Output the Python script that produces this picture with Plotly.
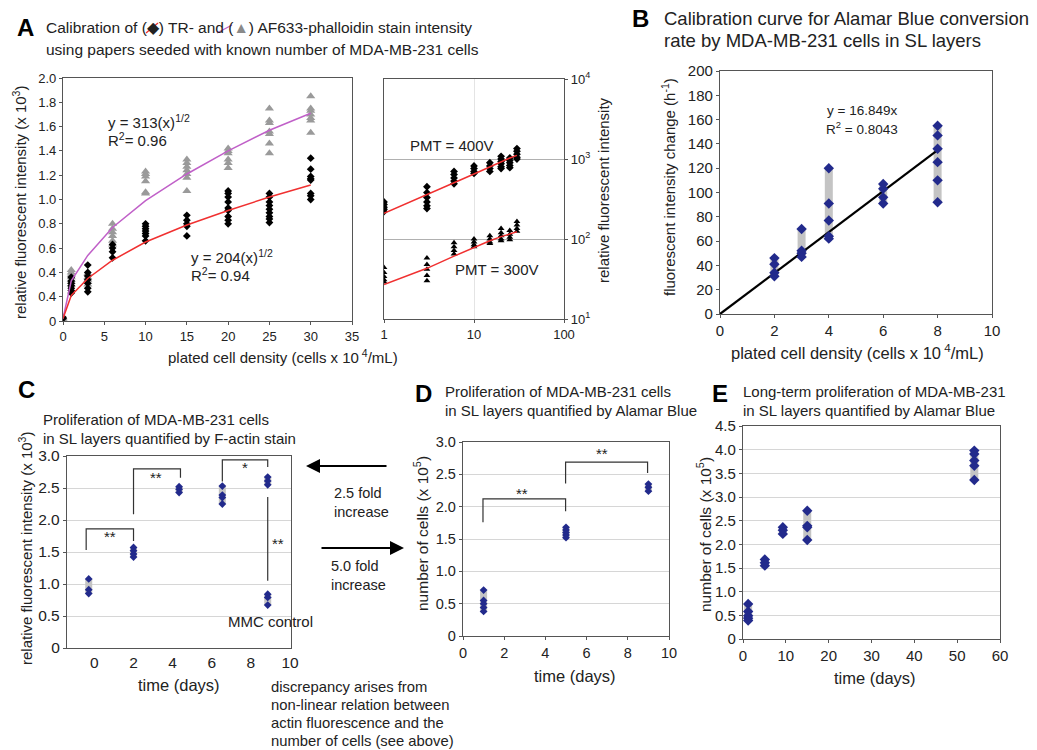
import plotly.graph_objects as go

W, H = 1037, 750
FONT = "Liberation Sans, Arial, sans-serif"
NAVY = "#222a8c"
BARC = "#c4c4c4"

# ---------------- data ----------------
# Panel A (linear): plated density vs fluorescence (x 10^3)
A_x = [0, 1, 3, 6, 10, 15, 20, 25, 30]
A_tr = [[0.03, 0.02],
        [0.36, 0.33, 0.31, 0.29, 0.27, 0.25, 0.23],
        [0.46, 0.40, 0.37, 0.34, 0.31, 0.27, 0.24],
        [0.63, 0.60, 0.57, 0.52],
        [0.80, 0.78, 0.76, 0.74, 0.72, 0.70, 0.66],
        [0.87, 0.83, 0.80, 0.78, 0.70],
        [1.07, 1.05, 1.02, 0.98, 0.93, 0.91, 0.86, 0.83, 0.80],
        [1.05, 1.02, 0.98, 0.95, 0.92, 0.89, 0.86, 0.84, 0.81],
        [1.34, 1.25, 1.19, 1.17, 1.16, 1.05, 1.03, 1.00]]
A_af = [[0.03, 0.02, 0.01],
        [0.42, 0.40, 0.38, 0.36, 0.34, 0.32, 0.30],
        [0.39, 0.36, 0.34, 0.32, 0.30],
        [0.80, 0.76, 0.73, 0.70, 0.66, 0.63],
        [1.23, 1.21, 1.19, 1.15, 1.06, 1.05],
        [1.33, 1.30, 1.27, 1.24, 1.21, 1.18, 1.07],
        [1.42, 1.40, 1.38, 1.33, 1.30, 1.26],
        [1.75, 1.65, 1.63, 1.56, 1.54, 1.46, 1.38],
        [1.85, 1.75, 1.73, 1.70, 1.67, 1.65, 1.55]]
A_tr_fit = [0.02, 0.21, 0.35, 0.50, 0.65, 0.79, 0.91, 1.02, 1.12]
A_af_fit = [0.02, 0.33, 0.54, 0.77, 0.99, 1.21, 1.40, 1.57, 1.71]
A_yticks = [0, 0.2, 0.4, 0.6, 0.8, 1.0, 1.2, 1.4, 1.6, 1.8, 2.0]
A_yticktext = ["0", "0.4", "0.4", "0.6", "0.8", "1.0", "1.2", "1.4", "1.6", "1.8", "2.0"]

# Panel A (log-log)
L_x = [1, 3, 6, 10, 15, 20, 25, 30]
L_400 = [[290, 270, 250, 235, 220],
         [450, 380, 330, 290, 260, 240],
         [700, 640, 580, 530, 490],
         [820, 760, 700, 660],
         [900, 820, 760, 700],
         [1080, 1000, 930, 870, 800, 760],
         [1030, 960, 900, 830, 780],
         [1350, 1250, 1150, 1050, 1000]]
L_300 = [[44, 38, 34, 31, 29],
         [58, 48, 42, 35, 30],
         [90, 80, 72, 65],
         [100, 92, 85, 80],
         [110, 100, 92, 88],
         [135, 120, 110, 100, 95],
         [128, 115, 105, 98],
         [165, 150, 135, 125]]
L_400_fit = [210, 355, 505, 650, 800, 920, 1030, 1110]
L_300_fit = [27, 43, 61, 79, 95, 107, 116, 123]

# Panel B
B_x = [2, 3, 4, 6, 8]
B_y = [[46, 41, 34, 31],
       [70, 52, 50, 47],
       [120, 91, 77, 64, 62],
       [107, 103, 96, 91],
       [155, 147, 136, 125, 110, 92]]
B_fit_x = [0, 8]
B_fit_y = [0, 134.8]

# Panel C
C_x = [-0.29, 2.0, 4.33, 6.54, 8.86, 8.86]
C_y = [[1.08, 0.91, 0.85],
       [1.57, 1.52, 1.47, 1.42],
       [2.52, 2.48, 2.43],
       [2.53, 2.39, 2.35, 2.25],
       [2.67, 2.61, 2.55],
       [0.84, 0.79, 0.67]]

# Panel D
D_x = [1, 5, 9]
D_y = [[0.71, 0.55, 0.50, 0.44, 0.38],
       [1.68, 1.64, 1.60, 1.56, 1.52],
       [2.35, 2.30, 2.24]]

# Panel E
E_x = [1.2, 5.1, 9.3, 15, 54]
E_y = [[0.74, 0.58, 0.49, 0.44, 0.39],
       [1.68, 1.61, 1.55],
       [2.36, 2.30, 2.22],
       [2.71, 2.39, 2.36, 2.09],
       [3.98, 3.91, 3.77, 3.66, 3.36]]


# ---------------- helpers ----------------
def flat(xs, groups):
    fx, fy = [], []
    for x, g in zip(xs, groups):
        for v in g:
            fx.append(x)
            fy.append(v)
    return fx, fy


def bars(xs, groups):
    bx, by = [], []
    for x, g in zip(xs, groups):
        bx += [x, x, None]
        by += [min(g), max(g), None]
    return bx, by


def px(x):
    return x / W


def py(y):
    return 1 - y / H


fig = go.Figure()

# Panel A linear
x, y = flat(A_x, A_af)
fig.add_trace(go.Scatter(x=x, y=y, mode="markers", xaxis="x", yaxis="y",
                         marker=dict(symbol="triangle-up", size=8, color="#9a9a9a")))
x, y = flat(A_x, A_tr)
fig.add_trace(go.Scatter(x=x, y=y, mode="markers", xaxis="x", yaxis="y",
                         marker=dict(symbol="diamond", size=6, color="black")))
fig.add_trace(go.Scatter(x=A_x, y=A_af_fit, mode="lines", xaxis="x", yaxis="y",
                         line=dict(color="#c060c8", width=1.5)))
fig.add_trace(go.Scatter(x=A_x, y=A_tr_fit, mode="lines", xaxis="x", yaxis="y",
                         line=dict(color="#f03030", width=1.5)))

# Panel A log
x, y = flat(L_x, L_400)
fig.add_trace(go.Scatter(x=x, y=y, mode="markers", xaxis="x2", yaxis="y2",
                         marker=dict(symbol="diamond", size=6, color="black")))
x, y = flat(L_x, L_300)
fig.add_trace(go.Scatter(x=x, y=y, mode="markers", xaxis="x2", yaxis="y2",
                         marker=dict(symbol="triangle-up", size=6, color="black")))
fig.add_trace(go.Scatter(x=L_x, y=L_400_fit, mode="lines", xaxis="x2", yaxis="y2",
                         line=dict(color="#f03030", width=1.5)))
fig.add_trace(go.Scatter(x=L_x, y=L_300_fit, mode="lines", xaxis="x2", yaxis="y2",
                         line=dict(color="#f03030", width=1.5)))

# Panel B
bx, by = bars(B_x, B_y)
fig.add_trace(go.Scatter(x=bx, y=by, mode="lines", xaxis="x3", yaxis="y3",
                         line=dict(color=BARC, width=8)))
fig.add_trace(go.Scatter(x=B_fit_x, y=B_fit_y, mode="lines", xaxis="x3", yaxis="y3",
                         line=dict(color="black", width=2.2)))
x, y = flat(B_x, B_y)
fig.add_trace(go.Scatter(x=x, y=y, mode="markers", xaxis="x3", yaxis="y3",
                         marker=dict(symbol="diamond", size=8, color=NAVY)))

# Panel C
bx, by = bars(C_x, C_y)
fig.add_trace(go.Scatter(x=bx, y=by, mode="lines", xaxis="x4", yaxis="y4",
                         line=dict(color=BARC, width=7)))
x, y = flat(C_x, C_y)
fig.add_trace(go.Scatter(x=x, y=y, mode="markers", xaxis="x4", yaxis="y4",
                         marker=dict(symbol="diamond", size=6, color=NAVY)))

# Panel D
bx, by = bars(D_x, D_y)
fig.add_trace(go.Scatter(x=bx, y=by, mode="lines", xaxis="x5", yaxis="y5",
                         line=dict(color=BARC, width=7)))
x, y = flat(D_x, D_y)
fig.add_trace(go.Scatter(x=x, y=y, mode="markers", xaxis="x5", yaxis="y5",
                         marker=dict(symbol="diamond", size=6, color=NAVY)))

# Panel E
bx, by = bars(E_x, E_y)
fig.add_trace(go.Scatter(x=bx, y=by, mode="lines", xaxis="x6", yaxis="y6",
                         line=dict(color=BARC, width=8)))
x, y = flat(E_x, E_y)
fig.add_trace(go.Scatter(x=x, y=y, mode="markers", xaxis="x6", yaxis="y6",
                         marker=dict(symbol="diamond", size=8, color=NAVY)))


def axis(l, r, t, b, anchor, fs=13, **kw):
    d = dict(domain=[px(l), px(r)] if anchor.startswith("y") else [py(b), py(t)],
             anchor=anchor, showline=True, linecolor="#555", linewidth=1.3,
             mirror=True, ticks="outside", ticklen=3, tickcolor="#555",
             zeroline=False, showgrid=False, automargin=False,
             tickfont=dict(size=fs, color="#222", family=FONT))
    d.update(kw)
    return d


lay = {}
# A linear
lay["xaxis"] = axis(63, 352, 78, 321, "y", 13, range=[0, 35], dtick=5, tick0=0)
lay["yaxis"] = axis(63, 352, 78, 321, "x", 13, range=[0, 2.0], tickvals=A_yticks,
                    ticktext=A_yticktext)
# A log
lay["xaxis2"] = axis(384, 564, 79, 319, "y2", 13, type="log", range=[0, 2],
                     tickvals=[1, 10, 100], ticktext=["1", "10", "100"],
                     showgrid=True, gridcolor="#e4e4e4")
lay["yaxis2"] = axis(384, 564, 79, 319, "x2", 13, type="log", range=[1, 4], side="right",
                     tickvals=[10, 100, 1000, 10000],
                     ticktext=["10<sup>1</sup>", "10<sup>2</sup>", "10<sup>3</sup>", "10<sup>4</sup>"],
                     showgrid=True, gridcolor="#b0b0b0")
# B
lay["xaxis3"] = axis(720, 992, 71, 314, "y3", 15, range=[0, 10], dtick=2, tick0=0)
lay["yaxis3"] = axis(720, 992, 71, 314, "x3", 15, range=[0, 200], dtick=20, tick0=0)
# C
lay["xaxis4"] = axis(67, 291, 456, 648, "y4", 15.5, range=[-1.4, 10.05],
                     tickvals=[0, 2, 4, 6, 8, 10], ticks="")
lay["yaxis4"] = axis(67, 291, 456, 648, "x4", 15.5, range=[0, 3.0],
                     tickvals=[0, 0.5, 1.0, 1.5, 2.0, 2.5, 3.0],
                     ticktext=["0", "0.5", "1.0", "1.5", "2.0", "2.5", "3.0"],
                     showgrid=True, gridcolor="#d6d6d6")
# D
lay["xaxis5"] = axis(463, 669, 442, 636, "y5", 14.5, range=[0, 10], dtick=2, tick0=0)
lay["yaxis5"] = axis(463, 669, 442, 636, "x5", 14.5, range=[0, 3.0],
                     tickvals=[0, 0.5, 1.0, 1.5, 2.0, 2.5, 3.0],
                     ticktext=["0", "0.5", "1.0", "1.5", "2.0", "2.5", "3.0"],
                     showgrid=True, gridcolor="#d6d6d6")
# E
lay["xaxis6"] = axis(743, 1000, 426, 639, "y6", 15, range=[0, 60], dtick=10, tick0=0)
lay["yaxis6"] = axis(743, 1000, 426, 639, "x6", 15, range=[0, 4.5],
                     tickvals=[0, 0.5, 1.0, 1.5, 2.0, 2.5, 3.0, 3.5, 4.0, 4.5],
                     ticktext=["0", "0.5", "1.0", "1.5", "2.0", "2.5", "3.0", "3.5", "4.0", "4.5"],
                     showgrid=True, gridcolor="#d6d6d6")

ann = []


def T(text, x, y, size=14, xa="left", ya="middle", angle=0, bold=False, color="#222"):
    if bold:
        text = "<b>" + text + "</b>"
    ann.append(dict(text=text, x=px(x), y=py(y), xref="paper", yref="paper",
                    xanchor=xa, yanchor=ya, showarrow=False, textangle=angle,
                    borderpad=0,
                    font=dict(size=size, family=FONT, color=color)))


def D(text, x, y, xr, yr, size=14, xa="left", ya="middle"):
    ann.append(dict(text=text, x=x, y=y, xref=xr, yref=yr, xanchor=xa, yanchor=ya,
                    showarrow=False, borderpad=0,
                    font=dict(size=size, family=FONT, color="#222")))


# Panel letters and titles
T("A", 16, 28, 24, bold=True, color="black")
T("Calibration of (◆) TR- and (<span style='color:#8a8a8a'>▲</span>) AF633-phalloidin stain intensity",
  45, 28, 15.5)
T("using papers seeded with known number of MDA-MB-231 cells", 45, 50, 15.5)
T("B", 631, 18, 24, bold=True, color="black")
T("Calibration curve for Alamar Blue conversion", 663, 18, 18.5)
T("rate by MDA-MB-231 cells in SL layers", 663, 41, 18.5)
T("C", 17, 389, 24, bold=True, color="black")
T("Proliferation of MDA-MB-231 cells", 42, 419, 15)
T("in SL layers quantified by F-actin stain", 42, 438, 15)
T("D", 414, 393, 24, bold=True, color="black")
T("Proliferation of MDA-MB-231 cells", 444, 392, 15)
T("in SL layers quantified by Alamar Blue", 444, 410, 15)
T("E", 711, 393, 24, bold=True, color="black")
T("Long-term proliferation of MDA-MB-231", 742, 392, 15)
T("in SL layers quantified by Alamar Blue", 742, 410, 15)

# Axis titles
T("relative fluorescent intensity (x 10<sup>3</sup>)", 20, 203, 15, xa="center", angle=-90)
T("plated cell density (cells x 10<sup> 4</sup>/mL)", 283, 356, 15, xa="center")
T("relative fluorescent intensity", 603, 190, 15, xa="center", angle=-90)
T("fluorescent intensity change (h<sup>-1</sup>)", 669, 187, 15, xa="center", angle=-90)
T("plated cell density (cells x 10<sup> 4</sup>/mL)", 857, 352, 16.5, xa="center")
T("relative fluorescent intensity (x 10<sup>3</sup>)", 25, 549, 15, xa="center", angle=-90)
T("time (days)", 179, 685, 16.5, xa="center")
T("number of cells (x 10<sup>5</sup>)", 421, 534, 15.5, xa="center", angle=-90)
T("time (days)", 575, 676, 16.5, xa="center")
T("number of cells (x 10<sup>5</sup>)", 704, 535, 15.5, xa="center", angle=-90)
T("time (days)", 875, 678, 16.5, xa="center")

# Panel A equation texts
D("y = 313(x)<sup>1/2</sup>", 5.3, 1.64, "x", "y", 15)
D("R<sup>2</sup>= 0.96", 5.3, 1.49, "x", "y", 15)
D("y = 204(x)<sup>1/2</sup>", 15.4, 0.53, "x", "y", 15)
D("R<sup>2</sup>= 0.94", 15.4, 0.38, "x", "y", 15)
T("PMT = 400V", 452, 145, 15, xa="center")
T("PMT = 300V", 497, 269, 15, xa="center")
T("y = 16.849x", 862, 110, 13.5, xa="center")
T("R<sup>2</sup> = 0.8043", 862, 128, 13.5, xa="center")

# Panel C / D significance labels
D("**", 0.8, 1.74, "x4", "y4", 15, xa="center")
D("**", 3.14, 2.66, "x4", "y4", 15, xa="center")
D("*", 7.7, 2.82, "x4", "y4", 15, xa="center")
D("**", 9.4, 1.64, "x4", "y4", 15, xa="center")
D("MMC control", 9.0, 0.42, "x4", "y4", 15, xa="center")
D("**", 2.85, 2.2, "x5", "y5", 15, xa="center")
D("**", 6.73, 2.82, "x5", "y5", 15, xa="center")

# Middle texts
T("2.5 fold", 333, 493, 14.5)
T("increase", 333, 512, 14.5)
T("5.0 fold", 330, 566, 14.5)
T("increase", 330, 585, 14.5)
for i, line in enumerate(["discrepancy arises from", "non-linear relation between",
                          "actin fluorescence and the", "number of cells (see above)"]):
    T(line, 270, 687 + 18 * i, 14.8)

# Arrows
ann.append(dict(x=px(306), y=py(466), ax=82, ay=0, xref="paper", yref="paper",
                axref="pixel", ayref="pixel", showarrow=True, arrowhead=2,
                arrowsize=1.4, arrowwidth=2, arrowcolor="black", text=""))
ann.append(dict(x=px(404), y=py(548), ax=-84, ay=0, xref="paper", yref="paper",
                axref="pixel", ayref="pixel", showarrow=True, arrowhead=2,
                arrowsize=1.4, arrowwidth=2, arrowcolor="black", text=""))

# Brackets
shapes = []


def path(pts, xr, yr):
    d = "M " + " L ".join(f"{a},{b}" for a, b in pts)
    shapes.append(dict(type="path", path=d, xref=xr, yref=yr,
                       line=dict(color="#333", width=1.2)))


path([(-0.42, 1.53), (-0.42, 1.86), (2.0, 1.86), (2.0, 1.67)], "x4", "y4")
path([(2.0, 2.09), (2.0, 2.8), (4.4, 2.8), (4.4, 2.66)], "x4", "y4")
path([(6.54, 2.6), (6.54, 2.94), (8.86, 2.94), (8.86, 2.83)], "x4", "y4")
path([(8.86, 2.36), (8.86, 1.05)], "x4", "y4")
path([(0.97, 1.76), (0.97, 2.12), (4.98, 2.12), (4.98, 1.93)], "x5", "y5")
path([(4.98, 2.36), (4.98, 2.69), (8.96, 2.69), (8.96, 2.52)], "x5", "y5")

# small legend strokes in title A
shapes.append(dict(type="line", xref="paper", yref="paper", x0=px(146), y0=py(33),
                   x1=px(158), y1=py(23), line=dict(color="#f03030", width=1.3)))
shapes.append(dict(type="line", xref="paper", yref="paper", x0=px(217), y0=py(33),
                   x1=px(232), y1=py(25), line=dict(color="#c060c8", width=1.3)))

fig.update_layout(width=W, height=H, autosize=False,
                  margin=dict(l=0, r=0, t=0, b=0, autoexpand=False),
                  paper_bgcolor="white", plot_bgcolor="white",
                  showlegend=False, font=dict(family=FONT, color="#222"),
                  annotations=ann, shapes=shapes, **lay)

fig.write_html("out.html", config={"displayModeBar": False},
               post_script="document.body.style.margin='0px';document.body.style.overflow='hidden';")
